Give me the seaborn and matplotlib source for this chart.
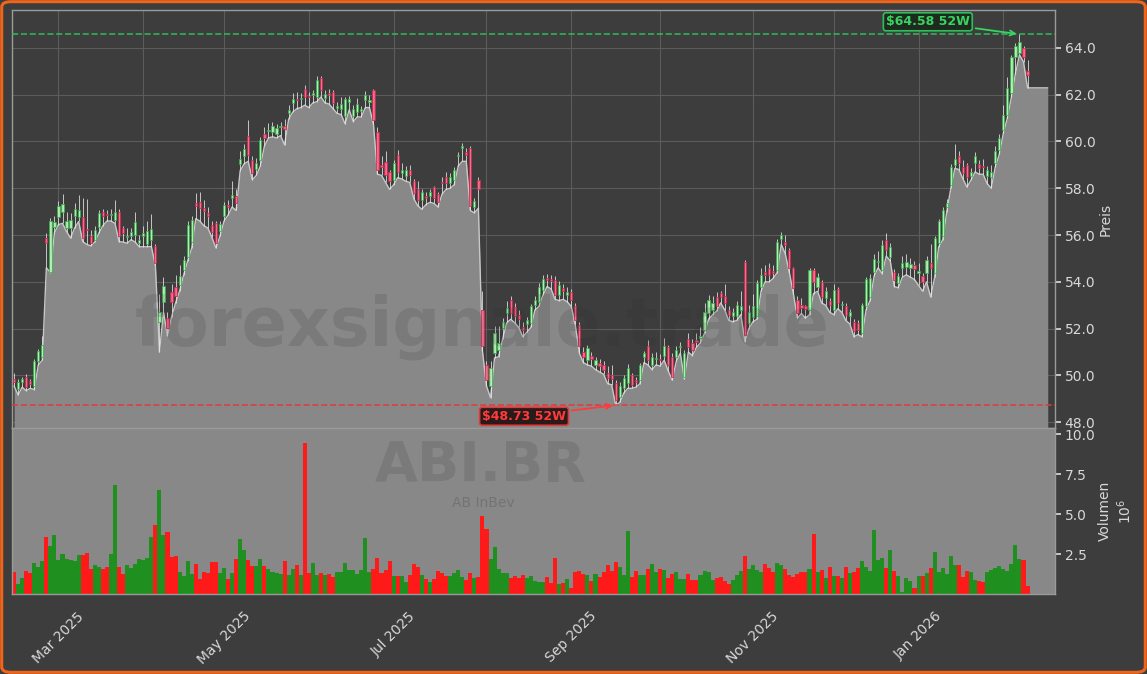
import numpy as np
import pandas as pd
import matplotlib
matplotlib.use("Agg")
import matplotlib.pyplot as plt
import matplotlib.patches as mpatches
import seaborn as sns

# ---------------- data ----------------
start_date = "2025-02-14"
holidays = ["2025-04-18", "2025-04-21", "2025-05-01", "2025-12-25", "2025-12-26", "2026-01-01"]

open_ = [49.84,49.43,49.71,49.95,49.77,49.53,50.62,50.81,55.87,54.44,56.34,56.79,57.00,56.29,56.29,56.82,56.79,56.79,56.25,55.97,
55.79,56.36,56.98,56.90,56.85,56.65,57.00,56.29,55.90,55.94,56.01,55.65,55.98,55.62,55.79,55.54,52.30,53.16,52.45,53.56,
53.80,53.87,54.51,55.08,55.72,57.39,57.43,57.15,56.95,56.41,56.51,56.19,56.83,57.29,57.57,57.65,59.03,59.39,60.24,59.21,
58.81,59.21,60.33,60.45,60.42,60.33,60.60,60.65,61.21,61.66,61.80,61.82,62.23,61.95,61.98,61.89,62.70,61.85,62.05,62.13,
61.41,61.39,61.09,61.70,61.09,61.28,61.30,61.78,61.70,62.18,60.42,59.00,59.14,58.71,58.36,59.43,58.64,58.53,58.80,58.29,
57.96,57.48,57.65,57.68,58.07,57.76,58.26,58.50,58.22,58.36,59.36,59.71,59.57,59.71,57.19,58.36,52.80,50.45,49.53,50.95,
51.10,52.02,52.66,53.23,52.94,52.60,52.09,52.20,52.26,53.02,53.16,53.66,54.16,54.12,54.09,53.45,53.73,53.45,53.55,52.95,
52.16,51.02,50.67,50.85,50.45,50.55,50.45,50.10,50.00,49.67,49.10,49.46,49.67,50.03,49.80,49.81,50.81,51.24,50.45,50.70,
50.70,50.84,51.21,50.81,50.81,51.20,49.95,51.55,51.38,51.50,51.60,51.95,52.66,52.80,53.37,53.51,53.40,52.80,52.52,52.52,
52.80,54.87,52.23,52.50,52.52,53.77,54.44,54.58,54.45,54.51,55.82,55.72,55.37,54.58,53.23,53.00,52.95,52.80,54.51,53.80,
54.01,53.30,53.20,52.80,53.69,53.00,52.97,52.52,52.30,52.23,51.81,52.95,53.37,54.44,54.85,54.51,55.79,55.08,54.44,53.94,
54.58,54.65,54.60,54.70,54.40,54.26,54.37,54.80,54.37,55.65,55.94,57.22,58.15,59.00,59.36,58.90,59.00,58.53,59.07,59.04,
58.95,58.53,58.50,59.07,59.64,60.50,61.14,62.06,63.60,63.77,63.99,63.03]

close = [49.70,49.71,49.84,49.50,49.63,50.62,51.05,51.31,55.65,56.58,56.54,57.25,57.33,56.58,56.65,57.11,57.08,55.87,56.20,55.68,
56.22,56.96,56.83,56.86,56.92,57.00,55.94,56.08,55.96,56.15,56.55,55.79,56.08,56.18,56.25,54.80,52.73,53.83,52.02,53.16,
53.40,54.23,54.94,56.44,56.65,57.25,57.15,57.01,56.80,56.15,55.65,56.48,57.29,57.19,57.72,57.39,59.26,59.67,59.43,58.64,
59.07,60.07,60.13,60.50,60.64,60.57,60.65,60.55,61.35,61.81,61.78,61.84,61.92,61.90,62.06,62.63,62.18,62.03,61.98,61.66,
61.52,61.61,61.81,61.80,61.38,61.61,61.40,61.99,61.78,60.92,58.79,58.93,58.57,58.29,59.07,58.71,58.79,58.79,58.55,57.79,
57.50,57.82,57.60,57.82,57.58,57.43,58.22,58.22,58.50,58.79,59.43,59.81,59.43,57.25,57.47,57.96,51.24,49.81,50.31,51.81,
51.40,52.30,52.87,52.66,52.52,52.40,51.95,52.37,52.95,53.23,53.80,54.11,54.09,54.05,53.45,53.87,53.59,53.55,53.23,52.38,
51.24,50.81,51.17,50.70,50.67,50.40,50.24,49.88,49.85,48.96,49.55,49.88,50.31,49.60,49.72,50.45,50.95,50.67,50.81,50.76,
50.64,51.24,50.45,49.95,51.09,51.25,50.95,51.21,51.09,51.45,51.70,52.73,53.23,53.10,52.95,53.37,53.10,52.59,52.73,53.02,
52.95,51.73,52.73,52.95,53.94,54.30,54.30,54.30,54.40,55.72,56.01,55.58,54.58,53.73,52.66,52.90,52.85,54.51,54.00,54.20,
53.37,53.60,53.00,53.66,53.09,53.05,52.59,52.73,51.88,51.95,53.02,54.11,54.16,54.97,54.90,55.58,55.37,55.48,54.09,54.23,
54.80,54.85,54.75,54.55,54.45,54.01,54.94,54.60,55.87,56.58,57.08,57.36,58.93,59.24,59.07,58.67,58.50,58.71,59.36,58.86,
58.90,58.79,58.71,59.61,60.14,61.14,62.28,63.63,64.06,64.27,63.63,62.85]

high = [50.10,49.85,49.95,50.05,49.85,50.70,51.15,51.70,56.10,56.75,56.80,57.45,57.75,57.00,56.95,57.35,57.70,57.60,57.55,56.20,
56.40,57.05,57.10,57.05,57.10,57.50,57.10,56.40,56.30,56.30,57.00,56.00,56.40,56.60,56.90,55.60,53.50,54.20,52.70,53.90,
54.30,54.70,55.10,56.60,56.80,57.80,57.85,57.50,57.20,56.60,56.60,56.60,57.40,57.50,58.30,57.95,59.60,59.90,60.90,59.40,
59.30,60.20,60.60,60.80,60.85,60.75,60.85,60.95,61.55,62.05,62.10,62.05,62.40,62.10,62.20,62.80,62.80,62.20,62.25,62.20,
61.70,61.90,61.90,61.95,61.55,61.85,61.50,62.15,62.00,62.25,60.60,59.40,59.60,58.80,59.20,59.65,59.10,58.95,59.00,58.40,
58.30,57.95,57.85,57.95,58.10,57.85,58.50,58.70,58.65,58.90,59.55,59.95,59.70,59.80,57.60,58.50,53.60,50.60,50.60,52.10,
52.10,52.45,53.20,53.40,53.10,52.80,52.30,52.50,53.05,53.40,53.95,54.30,54.35,54.30,54.25,54.05,53.90,53.80,53.70,53.10,
52.30,51.20,51.30,51.00,50.80,50.70,50.60,50.40,50.45,49.80,49.70,50.00,50.50,50.10,49.95,50.55,51.05,51.50,50.95,51.00,
50.90,51.60,51.30,50.95,51.25,51.45,51.10,51.80,51.55,51.80,52.05,53.10,53.45,53.40,53.55,53.60,53.90,52.95,52.90,53.20,
53.60,54.95,53.00,53.50,54.10,54.60,54.70,54.80,54.70,55.85,56.15,56.00,55.45,54.65,53.40,53.30,53.00,54.60,54.60,54.40,
54.10,53.80,53.30,53.90,53.80,53.20,53.10,52.85,52.40,52.35,53.10,54.20,54.35,55.20,55.30,55.80,56.10,55.65,54.55,54.40,
55.10,55.20,55.00,54.90,54.80,54.40,55.10,55.60,55.95,56.70,57.20,57.55,59.05,59.90,59.60,59.20,59.10,58.85,59.55,59.20,
59.25,58.95,59.00,59.80,60.30,61.55,62.75,63.70,64.20,64.58,64.10,63.50]

low = [49.55,49.17,49.50,49.35,49.45,49.40,50.45,50.65,54.60,54.40,56.10,56.45,56.50,56.15,55.87,56.30,56.58,55.72,55.60,55.54,
55.70,56.08,56.40,56.60,56.60,56.50,55.72,55.70,55.65,55.80,55.70,55.50,55.50,55.50,55.51,54.70,51.00,52.70,51.70,52.50,
53.10,53.60,54.30,54.90,55.45,56.70,56.60,56.40,56.30,55.90,55.45,55.95,56.60,56.85,57.20,57.05,58.75,59.05,59.15,58.36,
58.55,58.95,59.80,60.15,60.20,60.15,60.25,59.85,60.95,61.25,61.40,61.45,61.55,61.45,61.65,61.70,61.90,61.65,61.60,61.40,
61.20,61.15,60.75,61.35,60.85,61.05,61.05,61.45,61.45,60.75,58.60,58.55,58.25,57.95,58.15,58.45,58.40,58.30,58.25,57.55,
57.25,57.10,57.30,57.40,57.35,57.20,57.75,57.95,58.00,58.15,58.95,59.15,59.15,57.05,56.95,57.15,51.05,49.55,49.05,50.75,
50.80,51.55,52.25,52.40,52.25,52.05,51.65,51.85,52.05,52.80,52.95,53.45,53.80,53.70,53.25,53.20,53.25,53.15,52.95,52.15,
50.95,50.55,50.45,50.40,50.25,50.15,50.05,49.65,49.60,48.73,48.85,49.25,49.45,49.45,49.50,49.65,50.55,50.45,50.25,50.45,
50.40,50.65,50.20,49.80,50.60,50.95,49.85,51.00,50.85,51.20,51.40,51.80,52.40,52.60,52.75,53.10,52.80,52.35,52.30,52.35,
52.60,51.45,52.00,52.30,52.40,53.60,54.00,54.00,54.15,54.40,55.60,55.20,54.40,53.50,52.45,52.65,52.45,52.60,53.50,53.60,
53.10,53.00,52.70,52.60,52.85,52.70,52.35,52.20,51.65,51.75,51.65,52.80,53.20,54.25,54.60,54.35,55.10,54.90,53.80,53.75,
54.20,54.30,54.20,54.10,53.85,53.60,54.00,53.35,54.20,55.50,55.80,57.00,58.00,58.85,58.80,58.40,58.05,58.35,58.70,58.60,
58.60,58.20,58.00,58.90,59.45,60.35,61.00,61.90,62.90,63.70,63.40,62.29]

volume_m = [1.35,0.63,0.98,1.44,1.33,1.92,1.71,2.06,3.58,3.00,3.69,2.13,2.50,2.17,2.13,2.06,2.44,2.44,2.54,1.54,
1.81,1.71,1.56,1.71,2.50,6.81,1.71,1.25,1.81,1.65,1.88,2.19,2.13,2.27,3.58,4.31,6.54,3.69,3.88,2.33,
2.38,1.35,1.15,2.06,1.25,1.88,0.94,1.40,1.33,2.02,2.02,1.33,1.60,0.94,1.33,2.19,3.44,2.75,2.13,1.75,
1.75,2.17,1.75,1.54,1.40,1.29,1.25,2.06,1.19,1.56,1.81,1.19,9.46,1.29,1.92,1.19,1.29,1.19,1.25,1.08,
1.35,1.40,1.92,1.50,1.50,1.25,1.50,3.48,1.35,1.56,2.23,1.29,1.50,2.06,1.12,1.12,1.12,0.77,1.19,1.85,
1.71,1.19,0.92,0.77,0.92,1.44,1.29,1.12,1.12,1.33,1.50,1.08,0.88,1.29,1.02,1.08,4.88,4.06,2.19,2.92,
1.56,1.29,1.29,1.02,1.12,0.98,1.19,0.98,1.12,0.83,0.77,0.77,1.04,0.71,2.23,0.63,0.71,0.94,0.40,1.35,
1.44,1.25,1.19,0.81,1.23,1.08,1.35,1.81,1.46,1.98,1.71,1.19,3.94,1.08,1.44,1.19,1.19,1.56,1.85,1.40,
1.56,1.50,1.02,1.25,1.35,0.94,0.94,1.25,0.88,0.88,1.19,1.44,1.35,0.88,1.02,1.08,0.83,0.63,0.88,1.19,
1.44,2.38,1.56,1.81,1.50,1.35,1.88,1.60,1.35,1.92,1.81,1.56,1.19,1.04,1.25,1.35,1.35,1.56,3.75,1.35,
1.50,1.02,1.71,1.15,1.15,1.02,1.71,1.33,1.35,1.65,2.06,1.71,1.44,4.00,2.13,2.23,1.65,2.75,1.44,1.15,
0.13,1.02,0.81,0.40,1.15,1.15,1.29,1.65,2.65,1.35,1.65,1.25,2.38,1.81,1.81,1.08,1.44,1.35,0.88,0.83,
0.73,1.35,1.50,1.65,1.75,1.56,1.44,1.85,3.06,2.19,2.13,0.50]

ticker = "ABI.BR"
company = "AB InBev"
watermark = "forexsignale.trade"

# ---------------- build frame ----------------
n = len(close)
dates = pd.bdate_range(start=start_date, periods=n + 20, freq="C", holidays=holidays)[:n]
df = pd.DataFrame({"date": dates, "open": open_, "high": high, "low": low,
                   "close": close, "volume": np.array(volume_m) * 1e6})
df["idx"] = np.arange(n)
df["up"] = df["close"] >= df["open"]

hi52 = df["high"].max()
lo52 = df["low"].min()

# ---------------- style ----------------
BG = "#3d3d3d"
FILL = "#888888"
TXT = "#d8d8d8"
sns.set_theme(style="dark")
plt.rcParams.update({
    "font.family": ["DejaVu Sans"],
    "figure.facecolor": BG,
    "axes.facecolor": BG,
    "axes.edgecolor": "#9a9a9a",
    "text.color": TXT,
    "axes.labelcolor": TXT,
    "xtick.color": TXT,
    "ytick.color": TXT,
})

fig = plt.figure(figsize=(11.47, 6.74), dpi=100)
L, R = 0.0105, 0.9198
ax = fig.add_axes([L, 0.365, R - L, 0.985 - 0.365])
axv = fig.add_axes([L, 0.1187, R - L, 0.365 - 0.1187], sharex=ax)

x = df["idx"].to_numpy()
x_right = n - 1 + 5
ylo, yhi = lo52 * 0.98, hi52 * 1.016

ax.set_axisbelow(True)
ax.grid(True, color="#5c5c5c", linewidth=0.8)

# area under the price line
x_area = np.append(x, x_right)
y_area = np.append(df["low"].to_numpy(), df["low"].iloc[-1])
ax.fill_between(x_area, y_area, ylo, color=FILL, zorder=1, linewidth=0)
sns.lineplot(x=x_area, y=y_area, ax=ax, color="#c8c8c8", linewidth=1.0, zorder=2)

# candles
up = df["up"].to_numpy()
ax.vlines(x, df["low"], df["high"], color="#e8e8e8", linewidth=0.7, alpha=0.8, zorder=3)
body_lo = np.minimum(df["open"], df["close"]).to_numpy()
body_h = np.maximum(np.abs(df["close"] - df["open"]).to_numpy(), 0.05)
ax.bar(x[up], body_h[up], bottom=body_lo[up], width=0.55, color="#b4f0b4",
       edgecolor="#34b04a", linewidth=0.6, alpha=0.9, zorder=4)
ax.bar(x[~up], body_h[~up], bottom=body_lo[~up], width=0.55, color="#f3688a",
       edgecolor="#d02850", linewidth=0.6, alpha=0.9, zorder=4)

# 52W lines & annotations
ax.axhline(hi52, color="#2fbf5a", linestyle="--", linewidth=1.2, alpha=0.9, zorder=5)
ax.axhline(lo52, color="#e03a3a", linestyle="--", linewidth=1.2, alpha=0.9, zorder=5)
i_hi = int(df["high"].idxmax())
i_lo = int(df["low"].idxmin())
ax.annotate(f"${hi52:.2f} 52W", xy=(i_hi, hi52), xytext=(-66, 9), textcoords="offset points",
            ha="center", va="center", fontsize=9, fontweight="bold", color="#39d364",
            bbox=dict(boxstyle="round,pad=0.2", fc="#1e2a1e", ec="#2fbf5a", lw=1.2),
            arrowprops=dict(arrowstyle="->", color="#39d364", lw=1.3), zorder=6)
ax.annotate(f"${lo52:.2f} 52W", xy=(i_lo, lo52), xytext=(-66, -8), textcoords="offset points",
            ha="center", va="center", fontsize=9, fontweight="bold", color="#ff3b3b",
            bbox=dict(boxstyle="round,pad=0.2", fc="#2a1a1a", ec="#e03a3a", lw=1.2),
            arrowprops=dict(arrowstyle="->", color="#ff3b3b", lw=1.3), zorder=6)

ax.set_ylim(ylo, yhi)
ax.set_xlim(-0.5, n - 1 + 6.8)
ax.yaxis.tick_right()
ax.yaxis.set_label_position("right")
ax.set_yticks(np.arange(48, 65, 2))
ax.set_yticklabels([f"{v:.1f}" for v in np.arange(48, 65, 2)])
ax.set_ylabel("Preis", fontsize=10, labelpad=2)
ax.tick_params(axis="y", labelsize=10, length=4, pad=3)
ax.tick_params(axis="x", labelbottom=False, length=0)

# volume
vcol = np.where(up, "#1f8f1f", "#ff1a1a")
axv.set_facecolor(FILL)
axv.bar(x, df["volume"] / 1e6, width=1.0, color=vcol, linewidth=0, zorder=2)
axv.set_ylim(0, df["volume"].max() / 1e6 * 1.1)
axv.yaxis.tick_right()
axv.yaxis.set_label_position("right")
axv.set_yticks([2.5, 5.0, 7.5, 10.0])
axv.set_yticklabels(["2.5", "5.0", "7.5", "10.0"])
axv.set_ylabel("Volumen\n$10^6$", fontsize=10, labelpad=2)
axv.tick_params(axis="y", labelsize=10, length=4, pad=3)
axv.grid(False)

# month ticks
month_first = df.groupby(df["date"].dt.to_period("M"))["idx"].min()
month_first = month_first[month_first > 0]
tick_pos = month_first.to_numpy()
tick_lbl = [d.strftime("%b %Y") if d.month % 2 == 1 else "" for d in df["date"].iloc[tick_pos]]
axv.set_xticks(tick_pos)
axv.set_xticklabels(tick_lbl, rotation=45, fontsize=10)
axv.tick_params(axis="x", length=5, width=1, colors=TXT, pad=6)
ax.set_xticks(tick_pos)

for a in (ax, axv):
    for s in a.spines.values():
        s.set_color("#9a9a9a")
        s.set_linewidth(1.0)

# watermarks
fig.text(482 / 1147, 1 - 327 / 674, watermark, fontsize=48, fontweight="bold",
         color="#2a2a2a", alpha=0.15, ha="center", va="center", zorder=10)
fig.text(481 / 1147, 1 - 481 / 674, ticker, fontsize=40, fontweight="bold",
         color="#2a2a2a", alpha=0.15, ha="center", va="baseline", zorder=10)
fig.text(483 / 1147, 1 - 496 / 674, company, fontsize=10,
         color="#2a2a2a", alpha=0.22, ha="center", va="top", zorder=10)

# orange frame
fig.patches.append(mpatches.FancyBboxPatch((0.0015, 0.0025), 0.997, 0.995,
                   boxstyle="round,pad=0,rounding_size=0.008", transform=fig.transFigure,
                   fill=False, edgecolor="#f0651a", linewidth=2.2, zorder=20))

fig.savefig("out.png", dpi=100, facecolor=BG)
